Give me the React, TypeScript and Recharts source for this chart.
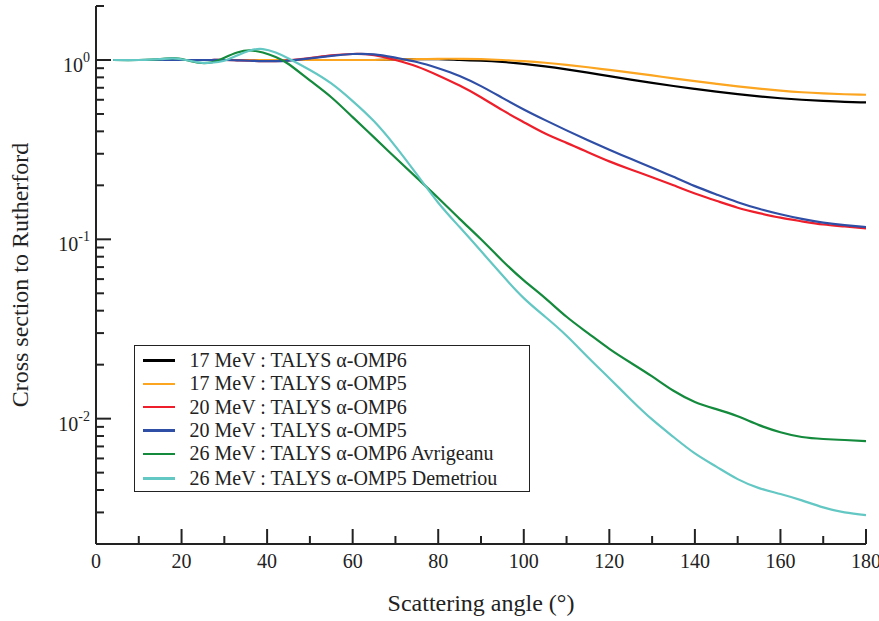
import React from 'react';
import { LineChart, Line, XAxis, YAxis, Legend } from 'recharts';

const angles = [4, 10, 15, 18, 21, 24, 27, 30, 33, 36, 39, 42, 45, 50, 55, 60, 65, 70, 75, 80, 85, 90, 95, 100, 105, 110, 115, 120, 125, 130, 135, 140, 145, 150, 155, 160, 165, 170, 175, 180];

const omp6At17 = [1, 1, 1, 1, 1, 1, 1, 1, 1, 1, 1, 1, 1, 1, 1, 1, 1, 1.005, 1.01, 1.01, 1.0, 0.99, 0.975, 0.952, 0.922, 0.887, 0.85, 0.812, 0.777, 0.745, 0.716, 0.69, 0.666, 0.645, 0.627, 0.612, 0.6, 0.591, 0.584, 0.58];
const omp5At17 = [1, 1, 1, 1, 1, 1, 1, 1, 1, 1, 1, 1, 1, 1, 1, 1, 1, 1.005, 1.01, 1.015, 1.015, 1.01, 1.0, 0.985, 0.965, 0.94, 0.911, 0.88, 0.85, 0.82, 0.79, 0.762, 0.736, 0.712, 0.692, 0.675, 0.661, 0.651, 0.644, 0.64];
const omp6At20 = [1, 1, 1, 1, 1, 1, 1, 1, 0.995, 0.99, 0.985, 0.985, 0.995, 1.025, 1.06, 1.08, 1.065, 1.0, 0.92, 0.82, 0.72, 0.62, 0.525, 0.45, 0.389, 0.345, 0.306, 0.272, 0.245, 0.222, 0.2, 0.18, 0.164, 0.15, 0.14, 0.132, 0.126, 0.121, 0.118, 0.115];
const omp5At20 = [1, 1, 1, 1, 1, 1, 1, 1, 0.995, 0.99, 0.985, 0.985, 0.993, 1.02, 1.055, 1.08, 1.075, 1.03, 0.975, 0.9, 0.815, 0.715, 0.615, 0.53, 0.462, 0.405, 0.357, 0.316, 0.281, 0.251, 0.223, 0.198, 0.178, 0.161, 0.148, 0.138, 0.13, 0.124, 0.12, 0.117];
const avrigeanu26 = [1, 1.0, 1.01, 1.025, 1.0, 0.965, 0.97, 1.03, 1.1, 1.13, 1.1, 1.04, 0.95, 0.77, 0.62, 0.48, 0.37, 0.285, 0.22, 0.17, 0.13, 0.1, 0.076, 0.059, 0.047, 0.037, 0.03, 0.0245, 0.0205, 0.0172, 0.0143, 0.0124, 0.0113, 0.0103, 0.0092, 0.0084, 0.0079, 0.0077, 0.0076, 0.0075];
const demetriou26 = [1, 1.0, 1.01, 1.02, 1.0, 0.97, 0.965, 0.99, 1.06, 1.13, 1.15, 1.1, 1.02, 0.88, 0.74, 0.59, 0.455, 0.33, 0.23, 0.16, 0.117, 0.086, 0.063, 0.047, 0.037, 0.029, 0.022, 0.0168, 0.0128, 0.0099, 0.0079, 0.0064, 0.0054, 0.0046, 0.0041, 0.0038, 0.0035, 0.0032, 0.003, 0.0029];

const xTicks = [0, 10, 20, 30, 40, 50, 60, 70, 80, 90, 100, 110, 120, 130, 140, 150, 160, 170, 180];
const yTicks = [0.002, 0.003, 0.004, 0.005, 0.006, 0.007, 0.008, 0.009, 0.01, 0.02, 0.03, 0.04, 0.05, 0.06, 0.07, 0.08, 0.09, 0.1, 0.2, 0.3, 0.4, 0.5, 0.6, 0.7, 0.8, 0.9, 1, 2];
const decadeValues = [0.01, 0.1, 1];
const decadeExponents = ['-2', '-1', '0'];

const series = [
  { key: 'omp6At17', name: '17 MeV : TALYS \u03b1-OMP6', color: '#000000', values: omp6At17 },
  { key: 'omp5At17', name: '17 MeV : TALYS \u03b1-OMP5', color: '#fba520', values: omp5At17 },
  { key: 'omp6At20', name: '20 MeV : TALYS \u03b1-OMP6', color: '#ee1f2b', values: omp6At20 },
  { key: 'omp5At20', name: '20 MeV : TALYS \u03b1-OMP5', color: '#2f4ea6', values: omp5At20 },
  { key: 'avrigeanu26', name: '26 MeV : TALYS \u03b1-OMP6 Avrigeanu', color: '#138a3c', values: avrigeanu26 },
  { key: 'demetriou26', name: '26 MeV : TALYS \u03b1-OMP5 Demetriou', color: '#63c7c3', values: demetriou26 },
];

const data = angles.map((angle, i) => {
  const row: Record<string, number> = { angle };
  series.forEach((s) => {
    row[s.key] = s.values[i];
  });
  return row;
});

const FONT = '"Liberation Serif", "Times New Roman", Tinos, Times, "Nimbus Roman", "Noto Serif", "DejaVu Serif", serif';
const INK = '#222';

const BottomTick = ({ x, y, payload }: any) => {
  const major = payload.value % 20 === 0;
  return (
    <g>
      <line x1={x} y1={y} x2={x} y2={y - (major ? 15 : 8)} stroke={INK} strokeWidth={2} />
      {major && (
        <text x={x} y={y + 24} textAnchor="middle" fontSize={20} style={{ fontFamily: FONT }} fill={INK}>
          {payload.value}
        </text>
      )}
    </g>
  );
};

const TopTick = ({ x, y, payload }: any) => {
  const major = payload.value % 20 === 0;
  return <line x1={x} y1={y} x2={x} y2={y + (major ? 15 : 8)} stroke={INK} strokeWidth={2} />;
};

const LeftTick = ({ x, y, payload }: any) => {
  const idx = decadeValues.indexOf(payload.value);
  const major = idx >= 0;
  return (
    <g>
      <line x1={x} y1={y} x2={x + (major ? 15 : 8)} y2={y} stroke={INK} strokeWidth={2} />
      {major && (
        <text x={x - 6} y={y + 12} textAnchor="end" fontSize={20} style={{ fontFamily: FONT }} fill={INK}>
          10
          <tspan dy={-10} fontSize={14}>
            {decadeExponents[idx]}
          </tspan>
        </text>
      )}
    </g>
  );
};

const RightTick = ({ x, y, payload }: any) => {
  const major = decadeValues.indexOf(payload.value) >= 0;
  return <line x1={x - (major ? 15 : 8)} y1={y} x2={x} y2={y} stroke={INK} strokeWidth={2} />;
};

const XTitle = ({ viewBox }: any) => (
  <text x={viewBox.x + viewBox.width / 2} y={viewBox.y + 67} textAnchor="middle" fontSize={24} style={{ fontFamily: FONT }} fill={INK}>
    Scattering angle (°)
  </text>
);

const YTitle = ({ viewBox }: any) => {
  const cx = viewBox.x - 8;
  const cy = viewBox.y + viewBox.height / 2;
  return (
    <text x={cx} y={cy} transform={`rotate(-90 ${cx} ${cy})`} textAnchor="middle" fontSize={24} style={{ fontFamily: FONT }} fill={INK}>
      Cross section to Rutherford
    </text>
  );
};

const LegendBox = () => (
  <div
    style={{
      border: `1.5px solid ${INK}`,
      background: '#fff',
      width: 394,
      padding: '3px 0 1px 0',
      fontFamily: FONT,
      fontSize: 20,
      color: INK,
      boxSizing: 'content-box',
    }}
  >
    {series.map((s, i) => (
      <div key={s.key} style={{ display: 'flex', alignItems: 'center', height: 23.3, marginTop: i === 5 ? 1.5 : 0 }}>
        <span style={{ display: 'inline-block', width: 32, height: 2.5, background: s.color, marginLeft: 7.5, marginRight: 15 }} />
        <span style={{ whiteSpace: 'nowrap', lineHeight: '23px' }}>{s.name}</span>
      </div>
    ))}
  </div>
);

export default function App() {
  return (
    <div style={{ position: 'absolute', left: 0, top: 0, width: 879, height: 621, background: '#fff', fontFamily: FONT }}>
      <LineChart width={879} height={621} data={data} margin={{ top: 6, right: 13, bottom: 47, left: 36 }}>
        <XAxis
          dataKey="angle"
          type="number"
          domain={[0, 180]}
          ticks={xTicks}
          interval={0}
          tickSize={0}
          tickMargin={0}
          height={30}
          tick={<BottomTick />}
          axisLine={{ stroke: INK, strokeWidth: 2 }}
          tickLine={false}
          allowDataOverflow
          label={{ content: <XTitle /> }}
        />
        <XAxis
          xAxisId="top"
          orientation="top"
          type="number"
          domain={[0, 180]}
          ticks={xTicks}
          interval={0}
          tickSize={0}
          tickMargin={0}
          height={0}
          tick={<TopTick />}
          axisLine={{ stroke: INK, strokeWidth: 2 }}
          tickLine={false}
          allowDataOverflow
        />
        <YAxis
          type="number"
          scale="log"
          domain={[0.002, 2]}
          ticks={yTicks}
          interval={0}
          tickSize={0}
          tickMargin={0}
          width={60}
          tick={<LeftTick />}
          axisLine={{ stroke: INK, strokeWidth: 2 }}
          tickLine={false}
          allowDataOverflow
          label={{ content: <YTitle /> }}
        />
        <YAxis
          yAxisId="right"
          orientation="right"
          type="number"
          scale="log"
          domain={[0.002, 2]}
          ticks={yTicks}
          interval={0}
          tickSize={0}
          tickMargin={0}
          width={0}
          tick={<RightTick />}
          axisLine={{ stroke: INK, strokeWidth: 2 }}
          tickLine={false}
          allowDataOverflow
        />
        {series.map((s) => (
          <Line
            key={s.key}
            dataKey={s.key}
            name={s.name}
            type="natural"
            stroke={s.color}
            strokeWidth={2.2}
            dot={false}
            isAnimationActive={false}
          />
        ))}
        <Legend
          layout="horizontal"
          verticalAlign="middle"
          align="center"
          content={<LegendBox />}
          wrapperStyle={{ left: 134, top: 345, width: 397 }}
        />
      </LineChart>
    </div>
  );
}
